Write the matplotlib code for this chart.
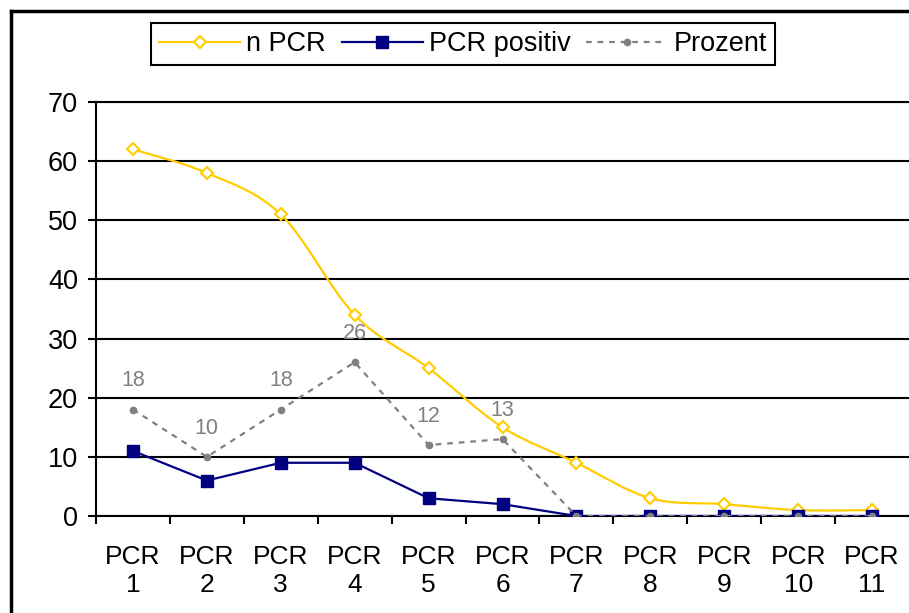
import matplotlib
matplotlib.use("Agg")
import matplotlib.pyplot as plt
from matplotlib.lines import Line2D
from matplotlib.path import Path
from matplotlib.patches import PathPatch
import numpy as np

plt.rcParams["font.family"] = ["Liberation Sans", "DejaVu Sans"]

# ── Data ──────────────────────────────────────────────────────────────────────
categories = ["PCR\n1", "PCR\n2", "PCR\n3", "PCR\n4", "PCR\n5", "PCR\n6",
              "PCR\n7", "PCR\n8", "PCR\n9", "PCR\n10", "PCR\n11"]
n_pcr = [62, 58, 51, 34, 25, 15, 9, 3, 2, 1, 1]
pcr_positiv = [11, 6, 9, 9, 3, 2, 0, 0, 0, 0, 0]
prozent = [18, 10, 18, 26, 12, 13, 0, 0, 0, 0, 0]

YELLOW = "#FFCC00"
NAVY = "#000080"
GREY = "#808080"


def smooth_path(xs, ys):
    """Catmull-Rom style cubic Bezier path through the points."""
    pts = np.column_stack([xs, ys]).astype(float)
    n = len(pts)
    verts = [pts[0]]
    codes = [Path.MOVETO]
    for i in range(n - 1):
        p0 = pts[i - 1] if i > 0 else pts[i]
        p1 = pts[i]
        p2 = pts[i + 1]
        p3 = pts[i + 2] if i + 2 < n else pts[i + 1]
        c1 = p1 + (p2 - p0) / 6.0
        c2 = p2 - (p3 - p1) / 6.0
        verts += [c1, c2, p2]
        codes += [Path.CURVE4] * 3
    return Path(verts, codes)


fig = plt.figure(figsize=(9.09, 6.13), dpi=100)
ax = fig.add_axes([96 / 909, 1 - 516 / 613, 1 - 96 / 909, (516 - 102) / 613])

x = np.arange(1, len(categories) + 1)

# n PCR: smoothed line with hollow diamonds
ax.add_patch(PathPatch(smooth_path(x, n_pcr), facecolor="none",
                       edgecolor=YELLOW, lw=1.6, zorder=3))
ax.plot(x, n_pcr, ls="none", marker="D", ms=6.5, mfc="white",
        mec=YELLOW, mew=1.5, zorder=4)

# PCR positiv
ax.plot(x, pcr_positiv, color=NAVY, lw=1.6, marker="s", ms=9,
        mfc=NAVY, mec=NAVY, zorder=5)

# Prozent
ax.plot(x, prozent, color=GREY, lw=1.6, ls=(0, (2.6, 2.6)), marker="o",
        ms=4.5, mfc=GREY, mec=GREY, zorder=6)
for xi, v in zip(x, prozent):
    if v > 0:
        ax.annotate(str(v), (xi, v), xytext=(0, 13), textcoords="offset points",
                    ha="center", va="bottom", fontsize=15.5, color=GREY)

# ── Axes styling ──────────────────────────────────────────────────────────────
ax.set_xlim(0.5, len(categories) + 0.5)
ax.set_ylim(0, 70)
ax.set_yticks(range(0, 71, 10))
ax.set_xticks(x)
ax.set_xticklabels(categories, fontsize=19, linespacing=1.2)
ax.set_xticks(np.arange(0.5, len(categories) + 0.5, 1.0), minor=True)
ax.tick_params(axis="x", which="major", length=0, pad=21)
ax.tick_params(axis="x", which="minor", length=6, width=1.5, direction="out")
ax.tick_params(axis="y", length=6, width=1.5, direction="out",
               labelsize=19.5, pad=7)
ax.yaxis.grid(True, color="black", lw=1.5)
ax.set_axisbelow(True)
for side in ("left", "bottom", "top"):
    ax.spines[side].set_color("black")
    ax.spines[side].set_linewidth(1.5)
ax.spines["right"].set_visible(False)

# Outer chart frame (left and top edges)
fig.add_artist(Line2D([10.5 / 909, 10.5 / 909], [0, 1 - 10.5 / 613],
                      transform=fig.transFigure, color="black", lw=2.5))
fig.add_artist(Line2D([10.5 / 909, 1], [1 - 10.5 / 613, 1 - 10.5 / 613],
                      transform=fig.transFigure, color="black", lw=2.5))

# ── Legend ────────────────────────────────────────────────────────────────────
handles = [
    Line2D([], [], color=YELLOW, lw=1.6, marker="D", ms=6.5, mfc="white",
           mec=YELLOW, mew=1.5),
    Line2D([], [], color=NAVY, lw=1.6, marker="s", ms=9, mfc=NAVY, mec=NAVY),
    Line2D([], [], color=GREY, lw=1.6, ls=(0, (2.6, 2.6)), marker="o",
           ms=4.5, mfc=GREY, mec=GREY),
]
leg = fig.legend(handles, ["n PCR", "PCR positiv", "Prozent"], ncol=3,
                 loc="center", bbox_to_anchor=(463 / 909, 1 - 44 / 613),
                 fontsize=19.5, frameon=True, fancybox=False, framealpha=1,
                 edgecolor="black", handlelength=3.0, handletextpad=0.23,
                 columnspacing=0.57, borderpad=0.3, borderaxespad=0)
leg.get_frame().set_linewidth(1.5)

fig.savefig("out.png", dpi=100, facecolor="white")
